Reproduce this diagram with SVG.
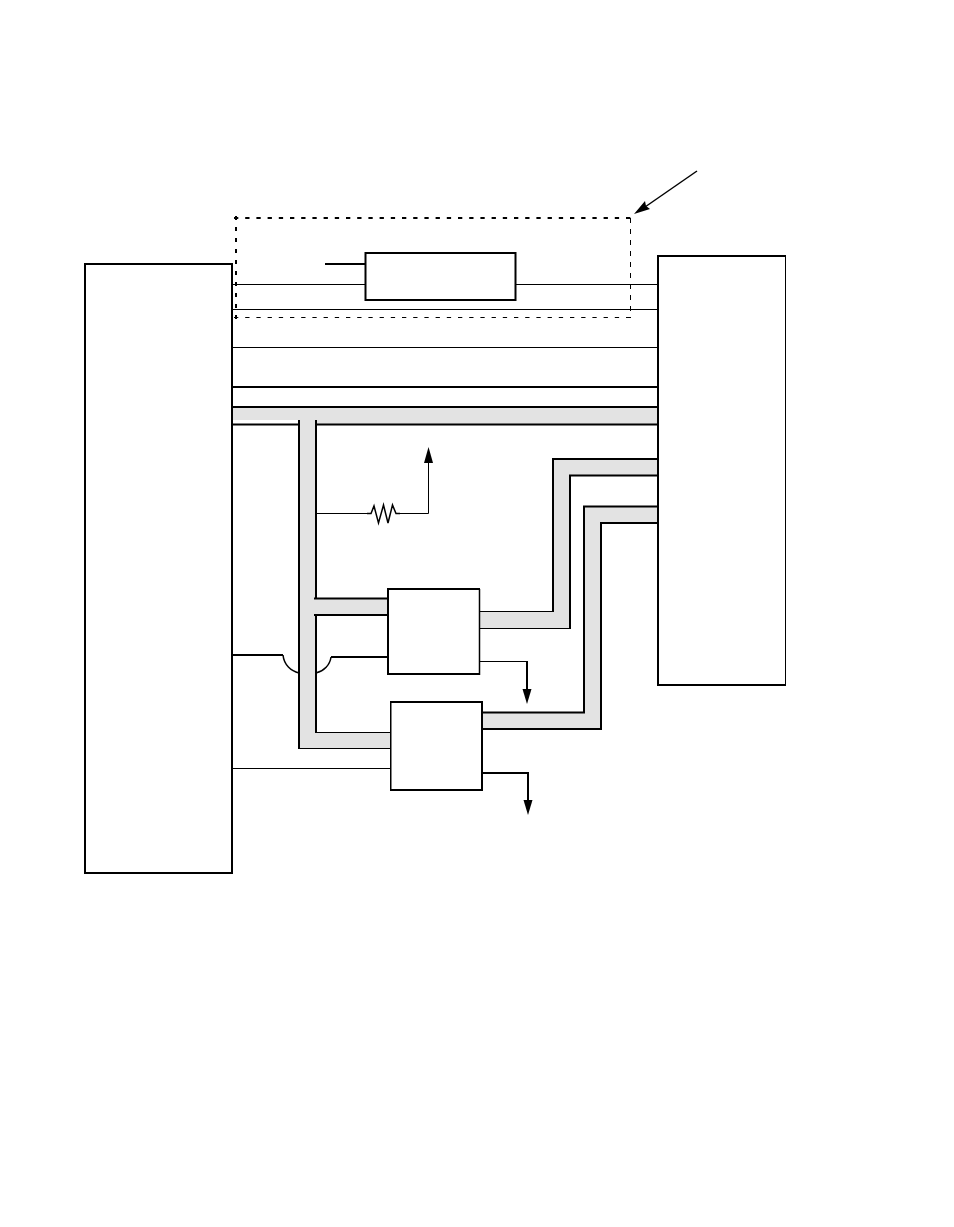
<svg xmlns="http://www.w3.org/2000/svg" width="954" height="1227" viewBox="0 0 954 1227">
<style>
.box{fill:#fff;stroke:#000;stroke-width:2}
.bus{fill:#e3e3e3;stroke:none}
.th{fill:none;stroke:#000;stroke-width:2}
.tn{fill:none;stroke:#000;stroke-width:1}
.md{fill:none;stroke:#000;stroke-width:1.500}
.ah{fill:#000;stroke:none}
.wh{fill:#fff;stroke:none}
</style>
<rect width="954" height="1227" fill="#fff"/>
<g id="connectors">
<path class="tn" d="M232 284.500H365M516 284.500H658M232 309.500H658M232 347.500H658"/>
<path class="th" d="M232 387H658M325 264H365"/>
<path class="bus" d="M232 407H658V424H316V598H388V615H316V732H391V748H299V420H232Z"/>
<path class="th" d="M232 407H658M232 424.500H299M316 424.500H658M299 420V749M316 420V598M314 598.500H388M314 615H388M316 615V733"/>
<path class="tn" d="M316 732.500H391M299 748.500H391"/>
<path class="bus" d="M480 611H553V459H658V475H570V628H480Z"/>
<path class="tn" d="M480 611.500H553M480 628.500H570"/>
<path class="th" d="M553 612V459H658M570 629V475.500H658"/>
<path class="bus" d="M483 712H584V507H658V523H601V729H483Z"/>
<path class="th" d="M483 712.500H584V506.500H658M483 729H601V523H658"/>
<path class="th" d="M232 655H283M331 657H388"/>
<path class="md" d="M283 655C284 665 291 671 299 673M316 673C324 671 330 665 331 657"/>
<path class="tn" d="M232 768.500H391"/>
<path class="tn" d="M480 661.500H527"/>
<path class="th" d="M527 661V692"/>
<path class="ah" d="M527 704L522.500 689H531.500Z"/>
<path class="th" d="M483 773H528V803"/>
<path class="ah" d="M528 815L523.500 800H532.500Z"/>
<path class="tn" d="M316 513.500H367"/>
<path class="md" d="M367 513.500H371L374 506L378.500 523L383.500 505L388 523L392.500 505L396 513.500H400"/>
<path class="tn" d="M400 513.500H428.500V460"/>
<path class="ah" d="M428.500 447L424 463H433Z"/>
<path class="md" d="M697 171L645 207"/>
<path class="ah" d="M634 214L645 201L646 206L650 209Z"/>
</g>
<g id="left-block"><rect class="box" x="85" y="264" width="147" height="609"/></g>
<g id="right-block"><rect class="wh" x="658" y="256" width="128" height="429"/><path class="th" d="M786 256H658V685H786"/><path class="tn" d="M785.500 256V685"/></g>
<g id="top-box"><rect class="box" x="365.500" y="253" width="150" height="47"/></g>
<g id="box-1"><rect class="wh" x="388" y="589" width="92" height="85"/><path class="th" d="M480 589H388V674H480"/><path class="md" d="M479.500 589V675"/></g>
<g id="box-2"><rect class="wh" x="391" y="702" width="91" height="88"/><path class="th" d="M390 702H482V790H390"/><path class="md" d="M390.750 701V791"/></g>
<g id="dashed-region">
<path class="th" stroke-dasharray="4.300 6.900" d="M234 218H631"/>
<path class="tn" stroke-dasharray="4.300 6.900" d="M234 317.500H631"/>
<path class="th" stroke-dasharray="4 7" d="M236 216V321"/>
<path class="tn" stroke-dasharray="5 6" d="M630.500 218V318"/>
</g>
</svg>
